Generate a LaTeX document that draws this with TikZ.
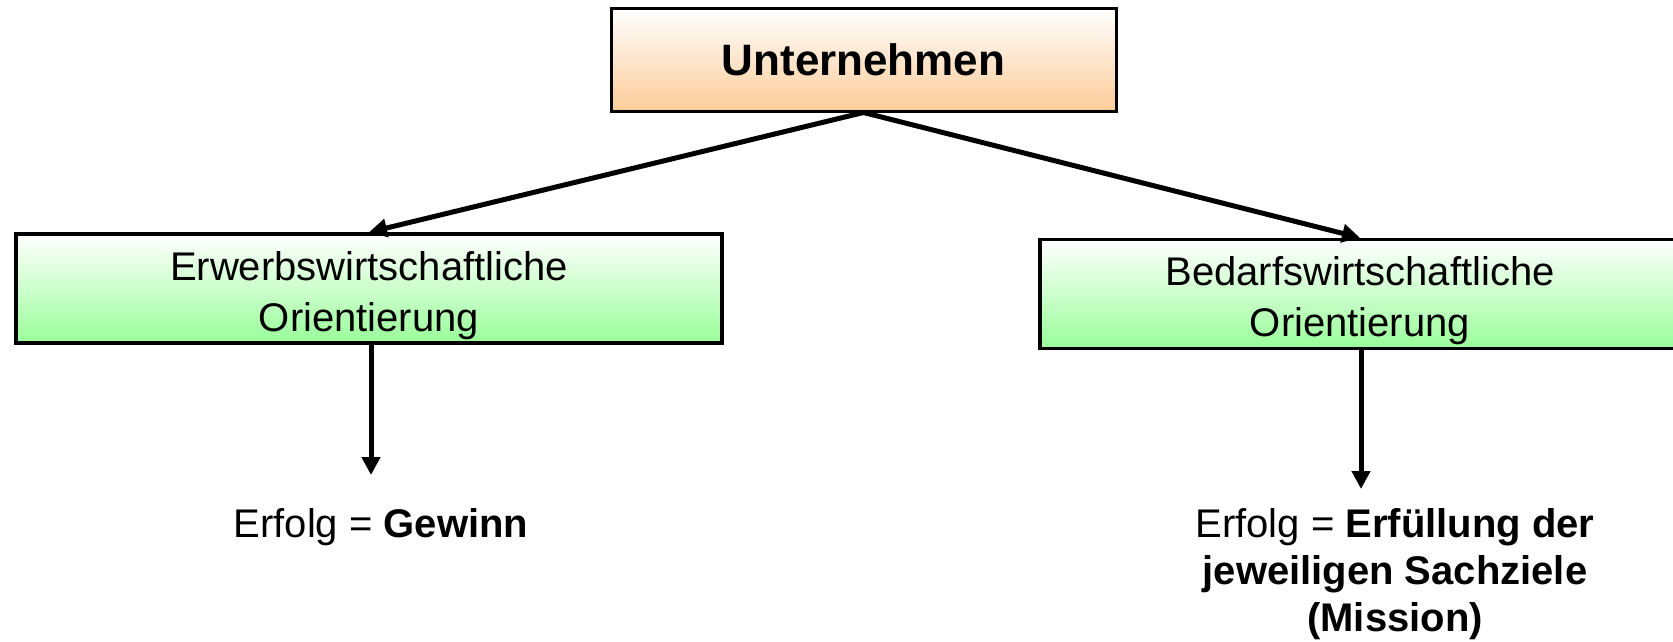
\documentclass[tikz,border=0pt]{standalone}
\usepackage{fontspec}
\setmainfont{Liberation Sans}
\usetikzlibrary{arrows.meta}

\definecolor{boxorange}{RGB}{252,204,153}
\definecolor{boxgreen}{RGB}{153,255,153}

% strut to push the box text down a little
\newcommand{\boxstrut}{\rule{0pt}{43pt}}

\begin{document}
\begin{tikzpicture}[
    x=1pt, y=-1pt,
    topbox/.style={draw=black, line width=3pt, top color=white, bottom color=boxorange,
      minimum width=505pt, minimum height=102pt, font=\fontsize{44}{50}\selectfont\bfseries},
    orient/.style={draw=black, line width=3.5pt, top color=white, bottom color=boxgreen,
      minimum height=105pt, align=center, font=\fontsize{40}{51}\selectfont},
    result/.style={align=center, anchor=base, font=\fontsize{40}{47}\selectfont},
    arr/.style={line width=5pt, -{Triangle[length=18pt,width=18pt]}}
  ]
  \useasboundingbox (0,0) rectangle (1673,642);

  % Top box
  \node[topbox] (unt) at (863.5,60) {Unternehmen};

  % Orientation boxes
  \node[orient, minimum width=706pt] (erw) at (369,288.5) {\boxstrut Erwerbswirtschaftliche\\Orientierung};
  \node[orient, minimum width=640pt] (bed) at (1360,294) {\boxstrut Bedarfswirtschaftliche\\Orientierung};

  % Results (base anchor sits on the last line)
  \node[result] (gewinn) at (381,537) {Erfolg = \textbf{Gewinn}};
  \node[result] (mission) at (1395,631) {Erfolg = \textbf{Erfüllung der}\\\textbf{jeweiligen Sachziele}\\\textbf{(Mission)}};

  \coordinate (gtip) at (371,475);
  \coordinate (mtip) at (1361,489);

  % Connections
  \draw[arr] (unt.south) -- (erw.north);
  \draw[arr] (unt.south) -- (bed.north);
  \draw[arr] (erw.south -| gtip) -- (gtip);
  \draw[arr] (bed.south -| mtip) -- (mtip);

\end{tikzpicture}
\end{document}
